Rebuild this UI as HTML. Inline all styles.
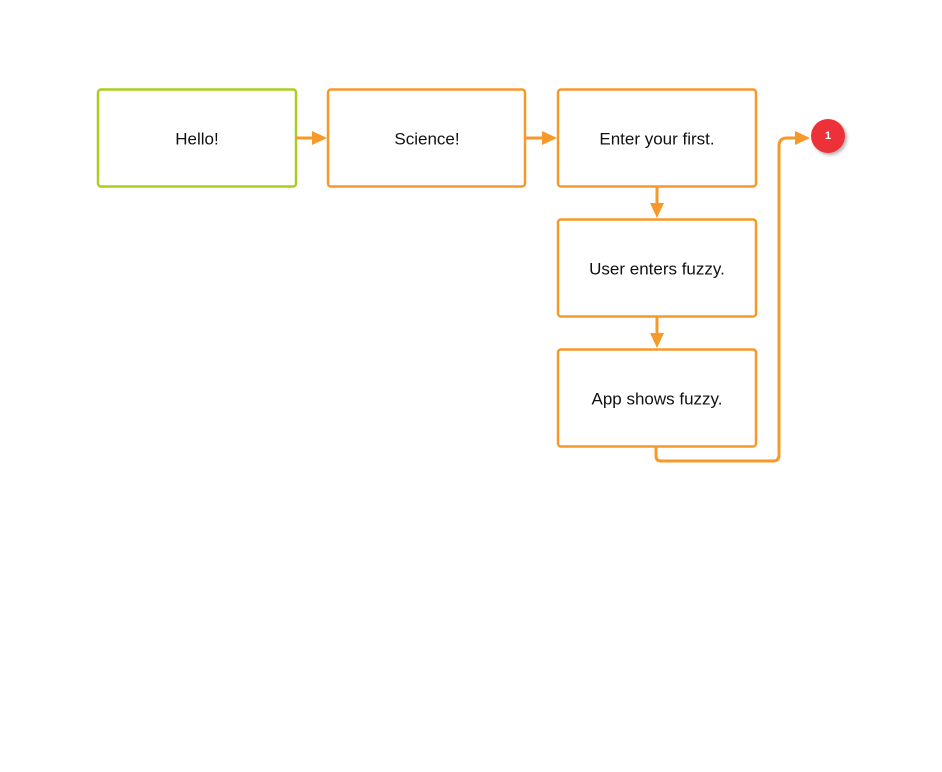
<!DOCTYPE html>
<html><head><style>
body{margin:0;background:#fff;}
svg text{font-family:"Liberation Sans",sans-serif;font-size:17px;fill:#111;text-anchor:middle;dominant-baseline:central;}
</style></head><body>
<svg width="942" height="767" viewBox="0 0 942 767" xmlns="http://www.w3.org/2000/svg">
<defs>
<filter id="sh" x="-50%" y="-50%" width="200%" height="200%"><feDropShadow dx="2" dy="2" stdDeviation="1.5" flood-color="#000" flood-opacity="0.3"/></filter>
</defs>
<g fill="#fff" stroke-width="2.5">
<rect x="98" y="89.5" width="198" height="97" rx="3" stroke="#a8cf1f"/>
<rect x="328" y="89.5" width="197" height="97" rx="3" stroke="#f7982a"/>
<rect x="558" y="89.5" width="198" height="97" rx="3" stroke="#f7982a"/>
<rect x="558" y="219.5" width="198" height="97" rx="3" stroke="#f7982a"/>
<rect x="558" y="349.5" width="198" height="97" rx="3" stroke="#f7982a"/>
</g>
<text x="197" y="139">Hello!</text>
<text x="427" y="139">Science!</text>
<text x="657" y="139">Enter your first.</text>
<text x="657" y="269">User enters fuzzy.</text>
<text x="657" y="399">App shows fuzzy.</text>
<g stroke="#f7982a" stroke-width="3" fill="none">
<line x1="296" y1="138" x2="314" y2="138"/>
<line x1="525" y1="138" x2="544" y2="138"/>
<line x1="657" y1="187" x2="657" y2="204"/>
<line x1="657" y1="317" x2="657" y2="334"/>
<path d="M656 447 V456 Q656 461 661 461 H773 Q779 461 779 455 V146 Q779 138 787 138 H797"/>
</g>
<g fill="#f7982a">
<polygon points="312,131 327,138 312,145"/>
<polygon points="542,131 557,138 542,145"/>
<polygon points="650,203 657,218 664,203"/>
<polygon points="650,333 657,348 664,333"/>
<polygon points="795,131 810,138 795,145"/>
</g>
<circle cx="828" cy="136" r="17" fill="#ec3338" filter="url(#sh)"/>
<text x="828" y="136" style="font-size:11px;font-weight:bold;fill:#fff">1</text>
</svg>
</body></html>
